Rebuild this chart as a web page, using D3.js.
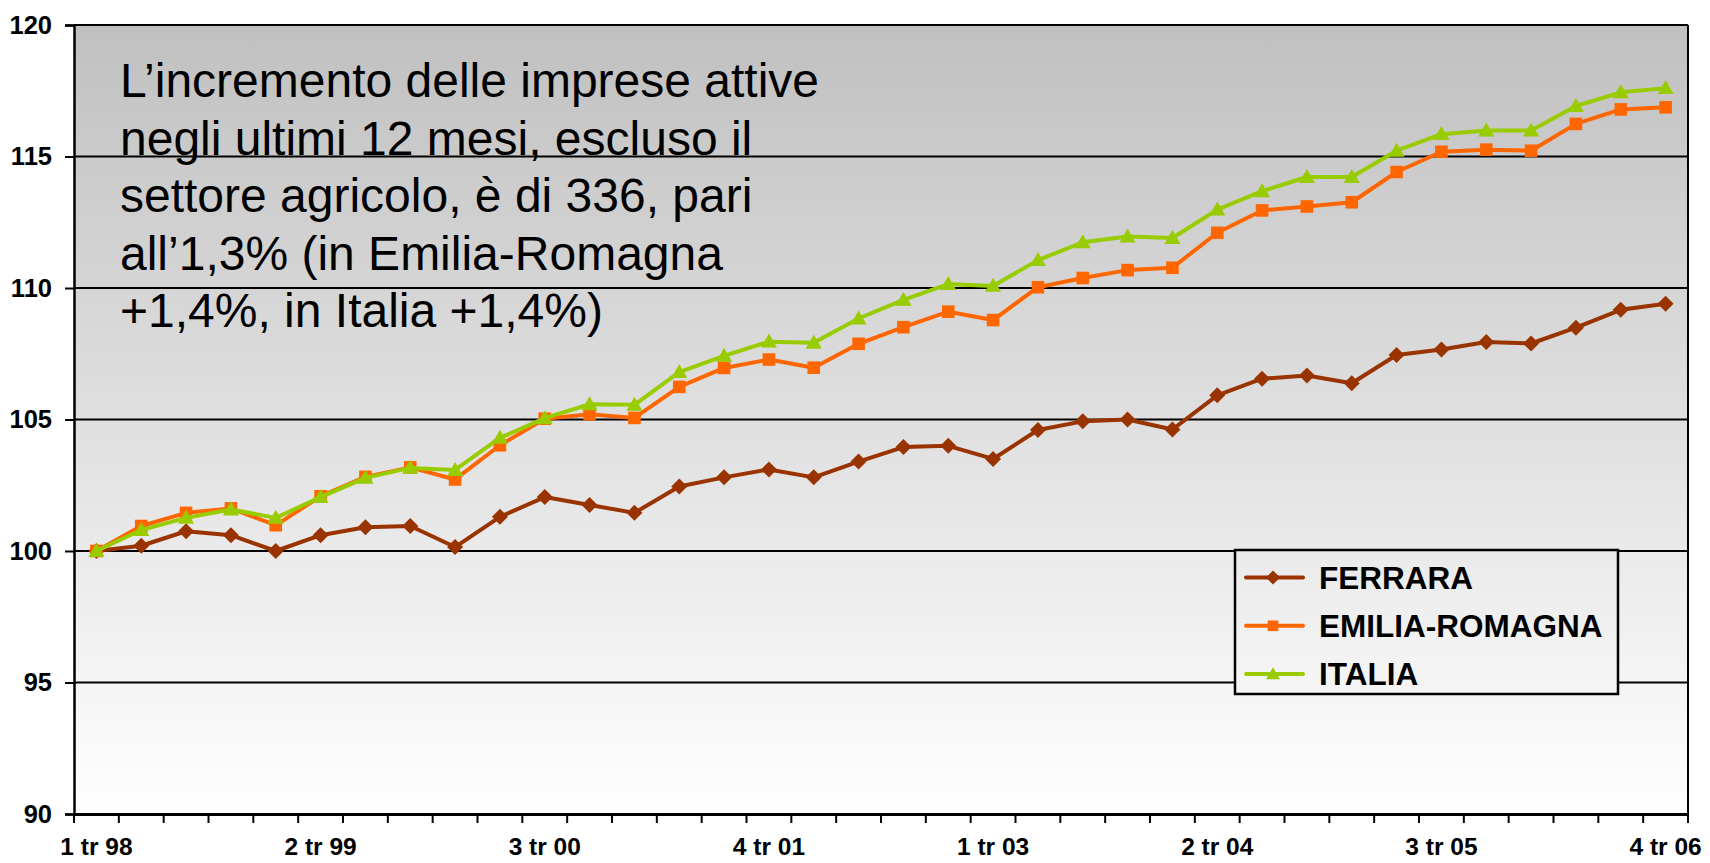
<!DOCTYPE html>
<html>
<head>
<meta charset="utf-8">
<script src="https://cdn.jsdelivr.net/npm/d3@7"></script>
<style>
  html, body { margin: 0; padding: 0; background: #ffffff; }
  svg { display: block; }
  text { font-family: "Liberation Sans", Arial, sans-serif; }
</style>
</head>
<body>
<svg id="chart" width="1710" height="863"></svg>
<script>
const categories = [
  "1 tr 98","2 tr 98","3 tr 98","4 tr 98",
  "1 tr 99","2 tr 99","3 tr 99","4 tr 99",
  "1 tr 00","2 tr 00","3 tr 00","4 tr 00",
  "1 tr 01","2 tr 01","3 tr 01","4 tr 01",
  "1 tr 02","2 tr 02","3 tr 02","4 tr 02",
  "1 tr 03","2 tr 03","3 tr 03","4 tr 03",
  "1 tr 04","2 tr 04","3 tr 04","4 tr 04",
  "1 tr 05","2 tr 05","3 tr 05","4 tr 05",
  "1 tr 06","2 tr 06","3 tr 06","4 tr 06"
];
const tickLabels = ["1 tr 98","2 tr 99","3 tr 00","4 tr 01","1 tr 03","2 tr 04","3 tr 05","4 tr 06"];
const yTicks = [90, 95, 100, 105, 110, 115, 120];

const ferrara = [100.0, 100.2, 100.75, 100.6, 100.0, 100.6, 100.9, 100.95, 100.15, 101.3, 102.05, 101.75,
  101.45, 102.45, 102.8, 103.1, 102.8, 103.4, 103.95, 104.0, 103.5, 104.6, 104.93, 105.0,
  104.62, 105.92, 106.55, 106.67, 106.38, 107.45, 107.66, 107.95, 107.89, 108.49, 109.17, 109.4];
const emiliaRomagna = [100.0, 100.95, 101.45, 101.62, 100.98, 102.08, 102.82, 103.18, 102.72, 104.02, 105.03, 105.2,
  105.06, 106.24, 106.96, 107.28, 106.97, 107.88, 108.51, 109.1, 108.78, 110.03, 110.38, 110.68,
  110.77, 112.1, 112.95, 113.1, 113.26, 114.41, 115.18, 115.26, 115.22, 116.24, 116.79, 116.87];
const italia = [100.0, 100.8, 101.26, 101.58, 101.26, 102.05, 102.78, 103.16, 103.08, 104.3, 105.05, 105.58,
  105.56, 106.8, 107.42, 107.96, 107.92, 108.84, 109.55, 110.15, 110.08, 111.06, 111.74, 111.96,
  111.9, 112.98, 113.68, 114.22, 114.22, 115.22, 115.85, 115.99, 115.99, 116.92, 117.44, 117.6];

const seriesNames = ["FERRARA", "EMILIA-ROMAGNA", "ITALIA"];
const seriesColors = ["#993300", "#FF6600", "#99CC00"];
const seriesShapes = ["diamond", "square", "triangle"];

const annotationLines = [
  "L\u2019incremento delle imprese attive",
  "negli ultimi 12 mesi, escluso il",
  "settore agricolo, \u00e8 di 336, pari",
  "all\u20191,3% (in Emilia-Romagna",
  "+1,4%, in Italia +1,4%)"
];

const series = [ferrara, emiliaRomagna, italia].map((vals, i) => ({
  name: seriesNames[i], color: seriesColors[i], shape: seriesShapes[i],
  values: vals.map((v, j) => ({ cat: categories[j], v }))
}));

const svg = d3.select("#chart");
const plot = { left: 74, right: 1688, top: 25, bottom: 814 };

const x = d3.scaleBand().domain(categories).range([plot.left, plot.right]).padding(0);
const y = d3.scaleLinear().domain([90, 120]).range([plot.bottom, plot.top]);
const cx = c => x(c) + x.bandwidth() / 2;

// gradient background
const defs = svg.append("defs");
const grad = defs.append("linearGradient").attr("id", "bg")
  .attr("gradientUnits", "userSpaceOnUse")
  .attr("x1", 0).attr("y1", plot.top).attr("x2", 0).attr("y2", plot.bottom);
grad.append("stop").attr("offset", "0%").attr("stop-color", "#c0c0c0");
grad.append("stop").attr("offset", "100%").attr("stop-color", "#ffffff");

svg.append("rect")
  .attr("x", plot.left).attr("y", plot.top)
  .attr("width", plot.right - plot.left).attr("height", plot.bottom - plot.top)
  .attr("fill", "url(#bg)");

// gridlines
svg.append("g").selectAll("line").data(yTicks.filter(t => t > 90 && t < 120)).join("line")
  .attr("x1", plot.left).attr("x2", plot.right)
  .attr("y1", d => y(d)).attr("y2", d => y(d))
  .attr("stroke", "#000").attr("stroke-width", 2);

// plot border (top, right)
svg.append("line").attr("x1", plot.left).attr("x2", plot.right).attr("y1", plot.top).attr("y2", plot.top)
  .attr("stroke", "#000").attr("stroke-width", 2);
svg.append("line").attr("x1", plot.right).attr("x2", plot.right).attr("y1", plot.top).attr("y2", plot.bottom)
  .attr("stroke", "#000").attr("stroke-width", 2);

// y axis
const yAxis = d3.axisLeft(y).tickValues(yTicks).tickSize(9).tickPadding(13).tickFormat(d3.format("d"));
const gy = svg.append("g").attr("transform", `translate(${plot.left},0)`).call(yAxis);
gy.select(".domain").attr("stroke", "#000").attr("stroke-width", 2.5);
gy.selectAll(".tick line").attr("stroke", "#000").attr("stroke-width", 2);
gy.selectAll(".tick text").attr("fill", "#000").attr("font-size", 25.5).attr("font-weight", "bold")
  .attr("font-family", "'Liberation Sans', Arial, sans-serif");

// x axis: tick marks at band boundaries
const xAxis = d3.axisBottom(x).tickValues(tickLabels).tickSize(0).tickPadding(24);
const gx = svg.append("g").attr("transform", `translate(0,${plot.bottom})`).call(xAxis);
gx.select(".domain").attr("stroke", "#000").attr("stroke-width", 3);
gx.selectAll(".tick text").attr("fill", "#000").attr("font-size", 24.5).attr("font-weight", "bold")
  .attr("font-family", "'Liberation Sans', Arial, sans-serif");
const boundaries = categories.map(c => x(c)).concat([x(categories[categories.length - 1]) + x.bandwidth()]);
gx.append("g").selectAll("line").data(boundaries).join("line")
  .attr("x1", d => d).attr("x2", d => d).attr("y1", 0).attr("y2", 9)
  .attr("stroke", "#000").attr("stroke-width", 2);

// annotation text
const ann = svg.append("text").attr("x", 120).attr("y", 97)
  .attr("font-size", 48).attr("fill", "#000")
  .attr("font-family", "'Liberation Sans', Arial, sans-serif");
ann.selectAll("tspan").data(annotationLines).join("tspan")
  .attr("x", 120).attr("dy", (d, i) => i === 0 ? 0 : 57.5).text(d => d);

// markers
function markerPath(shape, s) {
  if (shape === "diamond") return `M0,${-s}L${s},0L0,${s}L${-s},0Z`;
  if (shape === "square") return `M${-s},${-s}H${s}V${s}H${-s}Z`;
  return `M0,${-s * 1.15}L${s * 1.15},${s * 0.85}L${-s * 1.15},${s * 0.85}Z`;
}
const markerSize = { diamond: 8, square: 6.3, triangle: 7 };

const line = d3.line().x(d => cx(d.cat)).y(d => y(d.v));
const gs = svg.append("g").selectAll("g").data(series).join("g");
gs.append("path").attr("d", d => line(d.values))
  .attr("fill", "none").attr("stroke", d => d.color).attr("stroke-width", 4)
  .attr("stroke-linejoin", "round");
gs.each(function (s) {
  d3.select(this).selectAll("path.m").data(s.values).join("path").attr("class", "m")
    .attr("transform", d => `translate(${cx(d.cat)},${y(d.v)})`)
    .attr("d", markerPath(s.shape, markerSize[s.shape]))
    .attr("fill", s.color);
});

// legend
const lg = { x: 1235, y: 550, w: 383, h: 144 };
svg.append("rect").attr("x", lg.x).attr("y", lg.y).attr("width", lg.w).attr("height", lg.h)
  .attr("fill", "url(#bg)").attr("stroke", "#000").attr("stroke-width", 2.5);
const li = svg.append("g").selectAll("g").data(series).join("g")
  .attr("transform", (d, i) => `translate(${lg.x},${lg.y + 27.5 + i * 48.3})`);
li.append("line").attr("x1", 11).attr("x2", 68).attr("y1", 0).attr("y2", 0)
  .attr("stroke", d => d.color).attr("stroke-width", 4).attr("stroke-linecap", "round");
li.append("path").attr("transform", "translate(38,0)")
  .attr("d", d => markerPath(d.shape, markerSize[d.shape] - 1)).attr("fill", d => d.color);
li.append("text").attr("x", 84).attr("y", 0).attr("dy", "0.36em")
  .attr("font-size", 31.5).attr("font-weight", "bold").attr("fill", "#000")
  .text(d => d.name);
</script>
</body>
</html>
